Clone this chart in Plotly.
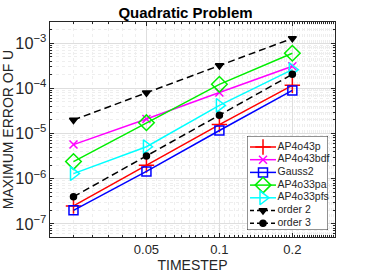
import plotly.graph_objects as go

timestep = [0.025, 0.05, 0.1, 0.2]
ap4o43p = [2.5e-7, 2.0e-6, 1.58e-5, 1.17e-4]
ap4o43bdf = [5.7e-6, 2.1e-5, 8.1e-5, 3.1e-4]
gauss2 = [2.0e-7, 1.45e-6, 1.17e-5, 9.0e-5]
ap4o33pa = [2.4e-6, 1.74e-5, 1.23e-4, 6.0e-4]
ap4o33pfs = [1.3e-6, 5.1e-6, 4.2e-5, 2.6e-4]
order2 = [2.0e-5, 8.0e-5, 3.2e-4, 1.28e-3]
order3 = [4.0e-7, 3.2e-6, 2.56e-5, 2.05e-4]
xtick_vals = [0.05, 0.1, 0.2]
xtick_text = ["0.05", "0.1", "0.2"]

DASH = "7px,4px"
series = [
    ("AP4o43p", ap4o43p, "#ff0000", "cross-thin", 11, "solid"),
    ("AP4o43bdf", ap4o43bdf, "#ff00ff", "x-thin", 8, "solid"),
    ("Gauss2", gauss2, "#0000ff", "square-open", 9, "solid"),
    ("AP4o33pa", ap4o33pa, "#00ee00", "diamond-open", 12, "solid"),
    ("AP4o33pfs", ap4o33pfs, "#00ffff", "triangle-right-open", 12, "solid"),
    ("order 2", order2, "#000000", "triangle-down", 7, DASH),
    ("order 3", order3, "#000000", "circle", 6, DASH),
]

FONT = "Liberation Sans, Arial"
fig = go.Figure()
for name, vals, col, sym, size, dash in series:
    fig.add_trace(go.Scatter(
        x=timestep, y=vals, name=name, mode="lines+markers", showlegend=False,
        line=dict(color=col, width=1.5, dash=dash),
        marker=dict(symbol=sym, size=size, color=col,
                    line=dict(color=col, width=1.5)),
    ))

# compact MATLAB-style legend drawn on an overlay axis (legend box units = px)
box_w, box_h = 81, 94
row0, row_step = 11, 12.7
fig.add_trace(go.Scatter(
    x=[0, box_w, box_w, 0, 0], y=[0, 0, box_h, box_h, 0], mode="lines",
    fill="toself", fillcolor="white", line=dict(color="#262626", width=1),
    xaxis="x2", yaxis="y2", showlegend=False, hoverinfo="skip", cliponaxis=False,
))
for i, (name, vals, col, sym, size, dash) in enumerate(series):
    yy = row0 + i * row_step
    fig.add_trace(go.Scatter(
        x=[3, 16, 29], y=[yy, yy, yy], mode="lines", xaxis="x2", yaxis="y2",
        showlegend=False, hoverinfo="skip",
        line=dict(color=col, width=1.5, dash="4px,3px" if dash == DASH else "solid"),
    ))
    fig.add_trace(go.Scatter(
        x=[16], y=[yy], mode="markers", xaxis="x2", yaxis="y2",
        showlegend=False, hoverinfo="skip", cliponaxis=False,
        marker=dict(symbol=sym, size=size, color=col, line=dict(color=col, width=1.5)),
    ))
    fig.add_trace(go.Scatter(
        x=[30.5], y=[yy], mode="text", text=[name], textposition="middle right",
        xaxis="x2", yaxis="y2", showlegend=False, hoverinfo="skip", cliponaxis=False,
        textfont=dict(family=FONT, size=10.5, color="#262626"),
    ))

axis_common = dict(
    type="log", showline=True, linecolor="#262626", linewidth=1, mirror="ticks",
    ticks="inside", ticklen=4, tickcolor="#262626",
    showgrid=True, gridcolor="#dedede", gridwidth=1, zeroline=False,
    tickfont=dict(family=FONT, size=13, color="#262626"),
    minor=dict(showgrid=True, gridcolor="#eeeeee", griddash="dot", ticks="inside",
               ticklen=2, tickcolor="#262626"),
)

pl, pr, pt, pb = 50, 335, 22, 237
W, H = 371, 278
lx0, ly0 = 247, 136
fig.update_layout(
    width=W, height=H,
    margin=dict(l=pl, r=W - pr, t=pt, b=H - pb, autoexpand=False),
    paper_bgcolor="white", plot_bgcolor="white",
    title=dict(text="<b>Quadratic Problem</b>", x=0.5, xanchor="center",
               y=0.955, yanchor="middle",
               font=dict(family=FONT, size=15, color="black")),
    xaxis=dict(axis_common, range=[-1.699, -0.523], tickvals=xtick_vals,
               ticktext=xtick_text, automargin=False,
               title=dict(text="TIMESTEP", standoff=4,
                          font=dict(family=FONT, size=14, color="#262626"))),
    yaxis=dict(axis_common, range=[-7.29, -2.53], exponentformat="power",
               dtick=1, automargin=False,
               title=dict(text="MAXIMUM ERROR OF U", standoff=2,
                          font=dict(family=FONT, size=14, color="#262626"))),
    xaxis2=dict(domain=[(lx0 - pl) / (pr - pl), (lx0 + box_w - pl) / (pr - pl)],
                range=[0, box_w], visible=False, fixedrange=True, anchor="y2"),
    yaxis2=dict(domain=[(pb - ly0 - box_h) / (pb - pt), (pb - ly0) / (pb - pt)],
                range=[box_h, 0], visible=False, fixedrange=True, anchor="x2"),
    showlegend=False,
    hovermode=False,
)

fig.write_html("out.html", config={"displayModeBar": False},
               post_script="document.body.style.margin='0';")
